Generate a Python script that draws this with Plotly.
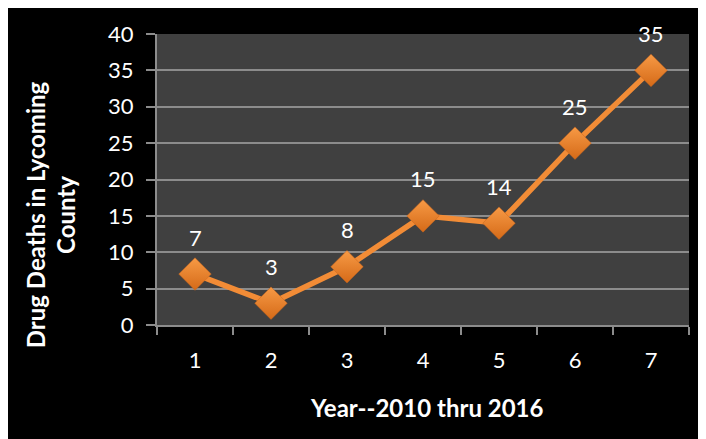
import plotly.graph_objects as go

years = ["1", "2", "3", "4", "5", "6", "7"]
deaths = [7, 3, 8, 15, 14, 25, 35]
y_ticks = [0, 5, 10, 15, 20, 25, 30, 35, 40]
y_title_lines = ["Drug Deaths in Lycoming", "County"]
x_title = "Year--2010 thru 2016"

FONT = "Lato, Open Sans, sans-serif"
ORANGE = "#F28C36"
GRID = "#8C8C8C"

fig = go.Figure()
fig.add_trace(go.Scatter(
    x=years, y=deaths, mode="lines+markers",
    line=dict(color=ORANGE, width=5.5),
    marker=dict(symbol="diamond", size=25, color="#F79A45",
                gradient=dict(type="vertical", color="#D56A18"),
                line=dict(color="#C8651C", width=0.5)),
    hoverinfo="skip", showlegend=False,
))

for i, y in enumerate(deaths):
    fig.add_annotation(x=i, y=y, text=str(y), showarrow=False, yshift=37,
                       font=dict(family=FONT, size=22, color="white"))

fig.add_annotation(xref="paper", yref="paper", x=0.5075, y=-0.282, yanchor="middle",
                   text="<b>" + x_title + "</b>", showarrow=False,
                   font=dict(family=FONT, size=24, color="white"))
for px, line in zip([-0.229, -0.173], y_title_lines):
    fig.add_annotation(xref="paper", yref="paper", x=px, y=0.378, xanchor="center",
                       yanchor="middle", text="<b>" + line + "</b>", showarrow=False,
                       textangle=-90,
                       font=dict(family=FONT, size=24, color="white"))

fig.update_layout(
    width=706, height=439,
    margin=dict(l=149, r=25, t=26, b=122),
    paper_bgcolor="black", plot_bgcolor="#404040",
    font=dict(family=FONT, size=22, color="white"),
    xaxis=dict(type="category", tickson="boundaries", ticks="outside", ticklen=8,
               tickcolor=GRID, tickwidth=2, showline=True, linecolor=GRID,
               linewidth=2, showgrid=False, ticklabelstandoff=15,
               range=[-0.5, len(years) - 0.5],
               tickfont=dict(family=FONT, size=22, color="white")),
    yaxis=dict(range=[0, 40], tickvals=y_ticks, ticks="outside", ticklen=9,
               tickcolor=GRID, tickwidth=2, showline=True, linecolor=GRID,
               linewidth=2, gridcolor=GRID, gridwidth=2, zeroline=False,
               ticklabelstandoff=8,
               tickfont=dict(family=FONT, size=22, color="white")),
)

fig.write_html("out.html")
